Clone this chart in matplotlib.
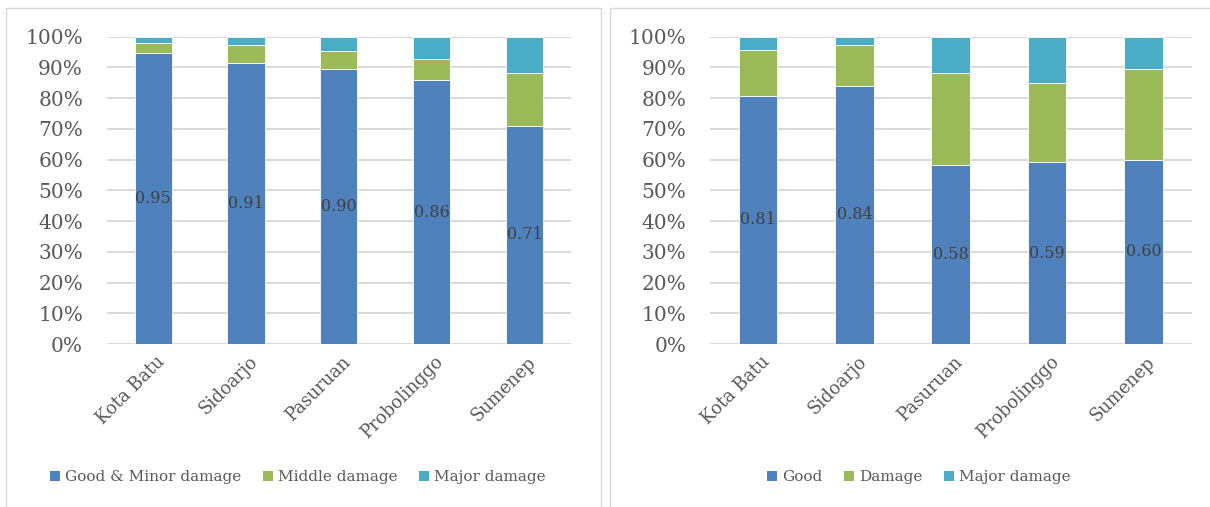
import matplotlib
matplotlib.use("Agg")
import matplotlib.pyplot as plt
from matplotlib.patches import Rectangle, Patch
from matplotlib.transforms import ScaledTranslation
import numpy as np

categories = ["Kota Batu", "Sidoarjo", "Pasuruan", "Probolinggo", "Sumenep"]

# Left chart
left_names = ["Good & Minor damage", "Middle damage", "Major damage"]
left_good = [0.947, 0.913, 0.896, 0.859, 0.710]
left_middle = [0.031, 0.059, 0.058, 0.069, 0.172]
left_major = [0.022, 0.028, 0.046, 0.072, 0.118]

# Right chart
right_names = ["Good", "Damage", "Major damage"]
right_good = [0.808, 0.840, 0.582, 0.591, 0.599]
right_damage = [0.150, 0.133, 0.301, 0.259, 0.297]
right_major = [0.042, 0.027, 0.117, 0.150, 0.104]

yticks = [0, 0.1, 0.2, 0.3, 0.4, 0.5, 0.6, 0.7, 0.8, 0.9, 1.0]
ytick_labels = ["0%", "10%", "20%", "30%", "40%", "50%", "60%", "70%", "80%", "90%", "100%"]

colors = ["#4F81BD", "#9BBB59", "#4BACC6"]
grid_c = "#D9D9D9"
text_c = "#595959"
lab_c = "#404040"
FONT = "DejaVu Serif"
plt.rcParams["font.family"] = FONT

W, H = 1210, 507
fig = plt.figure(figsize=(W / 100, H / 100), dpi=100)

def px_rect(x0, x1, y_top, y_bot):
    return [x0 / W, 1 - y_bot / H, (x1 - x0) / W, (y_bot - y_top) / H]

# panel borders
for (x0, x1) in [(5.5, 600.5), (609.5, 1230)]:
    fig.add_artist(Rectangle((x0 / W, -20 / H), (x1 - x0) / W, (H - 8 + 20) / H,
                             transform=fig.transFigure, fill=False,
                             edgecolor=grid_c, linewidth=1.0))

axL = fig.add_axes(px_rect(106.7, 571.0, 36.7, 344.0))
axR = fig.add_axes(px_rect(710.0, 1191.5, 36.7, 344.0))

def draw(ax, series, names, legend_center):
    x = np.arange(len(categories))
    bottom = np.zeros(len(categories))
    handles = []
    for vals, name, c in zip(series, names, colors):
        ax.bar(x, vals, width=0.4, bottom=bottom, color=c, edgecolor="white",
               linewidth=0.6, zorder=3)
        bottom = bottom + np.array(vals)
        handles.append(Patch(facecolor=c, edgecolor="none", label=name))
    for xi, v in zip(x, series[0]):
        ax.text(xi, v / 2, f"{v:.2f}", ha="center", va="center", color=lab_c,
                fontsize=11.5, zorder=4)
    ax.set_xlim(-0.5, len(categories) - 0.5)
    ax.set_ylim(0, 1.0)
    ax.set_yticks(yticks)
    ax.set_yticklabels(ytick_labels)
    ax.grid(axis="y", color=grid_c, linewidth=1.4, zorder=0)
    ax.set_axisbelow(True)
    for s in ax.spines.values():
        s.set_visible(False)
    ax.tick_params(axis="y", length=0, pad=17, labelsize=14.5, labelcolor=text_c)
    ax.tick_params(axis="x", length=0, pad=11, labelsize=12.7, labelcolor=text_c)
    ax.set_xticks(x)
    ax.set_xticklabels(categories, rotation=45, ha="right", va="center",
                       rotation_mode="anchor")
    off = ScaledTranslation(0.09, 0, fig.dpi_scale_trans)
    for lab in ax.get_xticklabels():
        lab.set_transform(lab.get_transform() + off)
    fig.legend(handles=handles, loc="center", ncol=3,
               bbox_to_anchor=(legend_center / W, 1 - 477 / H),
               bbox_transform=fig.transFigure, frameon=False, fontsize=11,
               handlelength=0.65, handleheight=0.65, handletextpad=0.35,
               columnspacing=1.4, labelcolor=text_c, borderaxespad=0)

draw(axL, [left_good, left_middle, left_major], left_names, 298)
draw(axR, [right_good, right_damage, right_major], right_names, 919)

fig.savefig("out.png", dpi=100)
